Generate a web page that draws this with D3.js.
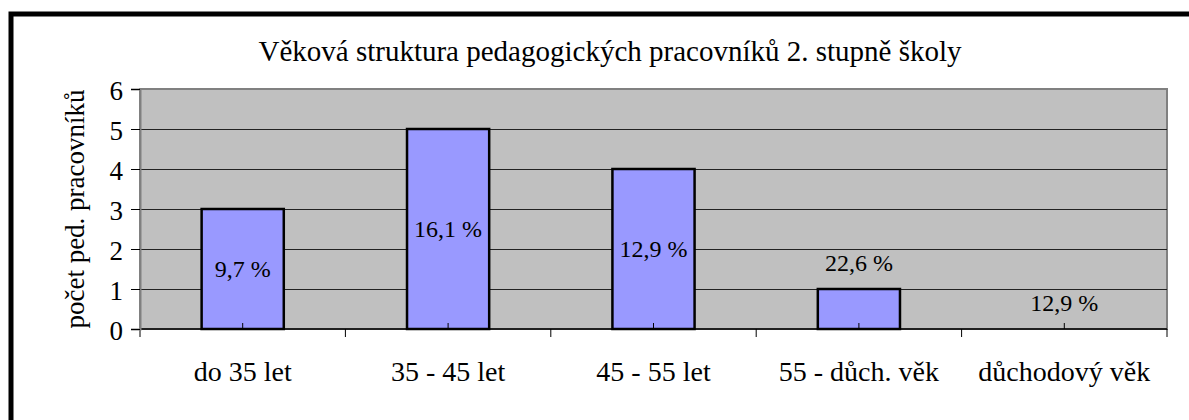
<!DOCTYPE html>
<html>
<head>
<meta charset="utf-8">
<script src="https://cdn.jsdelivr.net/npm/d3@7"></script>
<style>
    body { margin: 0; background: #fff; }
    svg text { font-family: "Liberation Serif", "DejaVu Serif", "Times New Roman", serif; fill: #000; }
</style>
</head>
<body>
<div id="chart"></div>
<script>
// data
var categories = ["do 35 let", "35 - 45 let", "45 - 55 let", "55 - důch. věk", "důchodový věk"];
var counts = [3, 5, 4, 1, 0];
var percentLabels = ["9,7 %", "16,1 %", "12,9 %", "22,6 %", "12,9 %"];
var yTicks = [0, 1, 2, 3, 4, 5, 6];
var title = "Věková struktura pedagogických pracovníků 2. stupně školy";
var yTitle = "počet ped. pracovníků";

var W = 1189, H = 420;
var plot = {left: 140, top: 89, right: 1167, bottom: 329};
var serif = "'Liberation Serif', 'DejaVu Serif', serif";

var svg = d3.select("#chart").append("svg")
    .attr("width", W)
    .attr("height", H);

// outer frame (runs off the right and bottom edge)
svg.append("rect")
    .attr("x", 11).attr("y", 14)
    .attr("width", W + 20).attr("height", H + 20)
    .attr("fill", "#fff")
    .attr("stroke", "#000")
    .attr("stroke-width", 5);

var x = d3.scaleBand()
    .domain(categories)
    .range([plot.left, plot.right])
    .paddingInner(0).paddingOuter(0);

var y = d3.scaleLinear()
    .domain([0, 6])
    .range([plot.bottom, plot.top]);

// grey plot area
svg.append("rect")
    .attr("x", plot.left).attr("y", plot.top)
    .attr("width", plot.right - plot.left)
    .attr("height", plot.bottom - plot.top)
    .attr("fill", "#c0c0c0")
    .attr("stroke", "#808080")
    .attr("stroke-width", 2);

// gridlines
svg.append("g")
    .selectAll("line")
    .data(yTicks.filter(function (d) { return d > 0 && d < 6; }))
    .enter().append("line")
    .attr("x1", plot.left).attr("x2", plot.right)
    .attr("y1", function (d) { return y(d) + 0.5; })
    .attr("y2", function (d) { return y(d) + 0.5; })
    .attr("stroke", "#222")
    .attr("stroke-width", 1);

// bars
var bw = x.bandwidth() * 0.4;
svg.append("g")
    .selectAll("rect")
    .data(counts)
    .enter().append("rect")
    .attr("x", function (d, i) { return x(categories[i]) + (x.bandwidth() - bw) / 2; })
    .attr("y", function (d) { return y(d); })
    .attr("width", bw)
    .attr("height", function (d) { return y(0) - y(d); })
    .attr("fill", "#9999ff")
    .attr("stroke", "#000")
    .attr("stroke-width", 2.5)
    .attr("display", function (d) { return d > 0 ? null : "none"; });

// small inner ticks at category centres
svg.append("g")
    .selectAll("line")
    .data(categories)
    .enter().append("line")
    .attr("x1", function (d) { return x(d) + x.bandwidth() / 2; })
    .attr("x2", function (d) { return x(d) + x.bandwidth() / 2; })
    .attr("y1", plot.bottom - 6).attr("y2", plot.bottom)
    .attr("stroke", "#000");

// x axis
var xAxis = svg.append("g")
    .attr("transform", "translate(0," + plot.bottom + ")");
xAxis.append("line")
    .attr("x1", plot.left).attr("x2", plot.right)
    .attr("stroke", "#000").attr("stroke-width", 1.5);
xAxis.selectAll(".tk")
    .data(d3.range(categories.length + 1))
    .enter().append("line")
    .attr("class", "tk")
    .attr("x1", function (i) { return plot.left + i * x.step(); })
    .attr("x2", function (i) { return plot.left + i * x.step(); })
    .attr("y1", 0).attr("y2", 8)
    .attr("stroke", "#000");
xAxis.selectAll("text")
    .data(categories)
    .enter().append("text")
    .attr("x", function (d) { return x(d) + x.bandwidth() / 2; })
    .attr("y", 52)
    .attr("text-anchor", "middle")
    .style("font-family", serif)
    .style("font-size", "28px")
    .text(function (d) { return d; });

// y axis
var yAxis = svg.append("g")
    .attr("transform", "translate(" + plot.left + ",0)")
    .call(d3.axisLeft(y).tickValues(yTicks).tickFormat(d3.format("d")).tickSize(9).tickPadding(8));
yAxis.select(".domain").attr("stroke", "#808080").attr("stroke-width", 2);
yAxis.selectAll(".tick line").attr("stroke", "#000");
yAxis.selectAll(".tick text")
    .attr("dy", "0.4em")
    .style("font-family", serif)
    .style("font-size", "27px")
    .attr("fill", "#000");

svg.append("text")
    .attr("transform", "translate(84," + (plot.top + plot.bottom) / 2 + ") rotate(-90)")
    .attr("text-anchor", "middle")
    .style("font-family", serif)
    .style("font-size", "27px")
    .text(yTitle);

// percentage labels: centred in tall bars, above short ones
svg.append("g")
    .selectAll("text")
    .data(percentLabels)
    .enter().append("text")
    .attr("x", function (d, i) { return x(categories[i]) + x.bandwidth() / 2; })
    .attr("y", function (d, i) {
        var v = counts[i];
        if (v >= 2) return y(v / 2) + 8;
        return y(v) - 18;
    })
    .attr("text-anchor", "middle")
    .style("font-family", serif)
    .style("font-size", "24px")
    .text(function (d) { return d; });

// title
svg.append("text")
    .attr("x", 610).attr("y", 61)
    .attr("text-anchor", "middle")
    .style("font-family", serif)
    .style("font-size", "29px")
    .text(title);
</script>
</body>
</html>
